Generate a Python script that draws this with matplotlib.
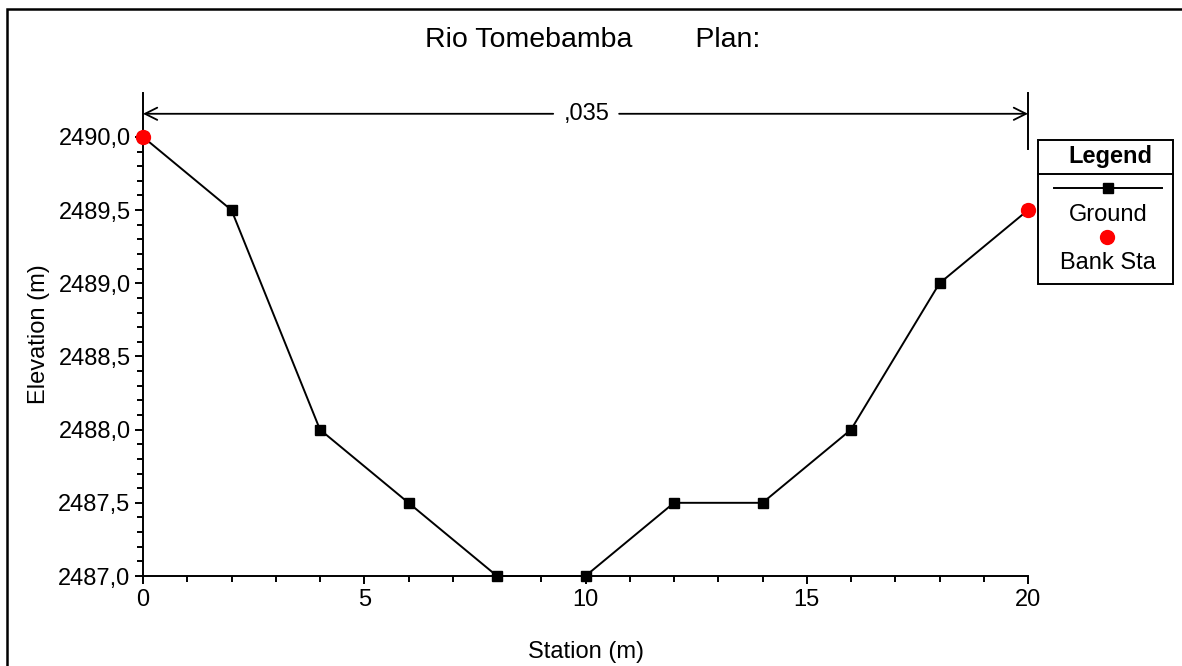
import matplotlib
matplotlib.use("Agg")
import matplotlib.pyplot as plt
from matplotlib.ticker import FixedLocator, FuncFormatter
from matplotlib.lines import Line2D
from matplotlib.patches import Rectangle

plt.rcParams['font.family'] = ['Liberation Sans', 'DejaVu Sans']

# data
station = [0, 2, 4, 6, 8, 10, 12, 14, 16, 18, 20]
ground = [2490.0, 2489.5, 2488.0, 2487.5, 2487.0, 2487.0, 2487.5, 2487.5, 2488.0, 2489.0, 2489.5]
bank_sta = [0, 20]
bank_elev = [2490.0, 2489.5]
n_value = ",035"
title_text = "Rio Tomebamba        Plan:"

W, H = 1182, 666
fig = plt.figure(figsize=(W / 100, H / 100), dpi=100)

# outer frame (runs off right / bottom edge like the screenshot)
fig.add_artist(Rectangle((7 / W, -0.05), 1.2, 1 - 9 / H + 0.05, transform=fig.transFigure,
                         fill=False, edgecolor='black', linewidth=1.8))

ymin, ytop = 2487.0, 2490.3
ax = fig.add_axes([143 / W, 1 - 576 / H, (1028 - 143) / W, (576 - 93) / H])
ax.plot(station, ground, color='black', linewidth=1.4, marker='s', markersize=7.5,
        clip_on=False, zorder=3)
ax.plot(bank_sta, bank_elev, linestyle='none', marker='o', color='red', markersize=10,
        clip_on=False, zorder=4)

ax.set_xlim(0, 20)
ax.set_ylim(ymin, ytop)
for s in ['top', 'right']:
    ax.spines[s].set_visible(False)
for s in ['left', 'bottom']:
    ax.spines[s].set_linewidth(1.4)

ax.xaxis.set_major_locator(FixedLocator([0, 5, 10, 15, 20]))
ax.xaxis.set_minor_locator(FixedLocator(range(0, 21)))
ax.yaxis.set_major_locator(FixedLocator([2487.0, 2487.5, 2488.0, 2488.5, 2489.0, 2489.5, 2490.0]))
ax.yaxis.set_minor_locator(FixedLocator([2487.0 + 0.1 * i for i in range(31)]))
ax.yaxis.set_major_formatter(FuncFormatter(lambda v, p: f"{v:.1f}".replace('.', ',')))
ax.xaxis.set_major_formatter(FuncFormatter(lambda v, p: f"{v:g}"))
ax.tick_params(which='major', direction='out', length=6, width=1.4, labelsize=17, pad=3)
ax.tick_params(which='minor', direction='out', length=4, width=1.4)

ax.set_xlabel("Station (m)", fontsize=17, labelpad=22)
ax.set_ylabel("Elevation (m)", fontsize=17, labelpad=6)

# n-value dimension line across the section
yarr = 2490.158
ax.plot([20, 20], [2489.92, ytop], color='black', linewidth=1.4, clip_on=False)
ax.annotate("", xy=(0, yarr), xytext=(9.27, yarr),
            arrowprops=dict(arrowstyle='->', color='black', lw=1.3, mutation_scale=22,
                            shrinkA=0, shrinkB=0), annotation_clip=False)
ax.annotate("", xy=(20, yarr), xytext=(10.76, yarr),
            arrowprops=dict(arrowstyle='->', color='black', lw=1.3, mutation_scale=22,
                            shrinkA=0, shrinkB=0), annotation_clip=False)
ax.text(10.02, yarr, n_value, ha='center', va='center', fontsize=17)

fig.text(593 / W, 1 - 40 / H, title_text, ha='center', va='center', fontsize=20.5)

# legend box
lx0, lx1, ly0, ly1 = 1038, 1173, 140, 284
fig.add_artist(Rectangle((lx0 / W, 1 - ly1 / H), (lx1 - lx0) / W, (ly1 - ly0) / H,
                         transform=fig.transFigure, fill=False, edgecolor='black', linewidth=1.4))
fig.add_artist(Line2D([lx0 / W, lx1 / W], [1 - 174 / H, 1 - 174 / H], transform=fig.transFigure,
                      color='black', linewidth=1.4))
fig.text(1110 / W, 1 - 157 / H, "Legend", ha='center', va='center', fontsize=17,
         fontweight='bold')
fig.add_artist(Line2D([1054 / W, 1162 / W], [1 - 188 / H, 1 - 188 / H], transform=fig.transFigure,
                      color='black', linewidth=1.4))
fig.add_artist(Line2D([1108 / W], [1 - 188 / H], transform=fig.transFigure, marker='s',
                      markersize=7.5, color='black', linestyle='none'))
fig.text(1108 / W, 1 - 215 / H, "Ground", ha='center', va='center', fontsize=17)
fig.add_artist(Line2D([1107 / W], [1 - 237 / H], transform=fig.transFigure, marker='o',
                      markersize=10, color='red', linestyle='none'))
fig.text(1108 / W, 1 - 263 / H, "Bank Sta", ha='center', va='center', fontsize=17)

fig.savefig("out.png", dpi=100, facecolor='white')
